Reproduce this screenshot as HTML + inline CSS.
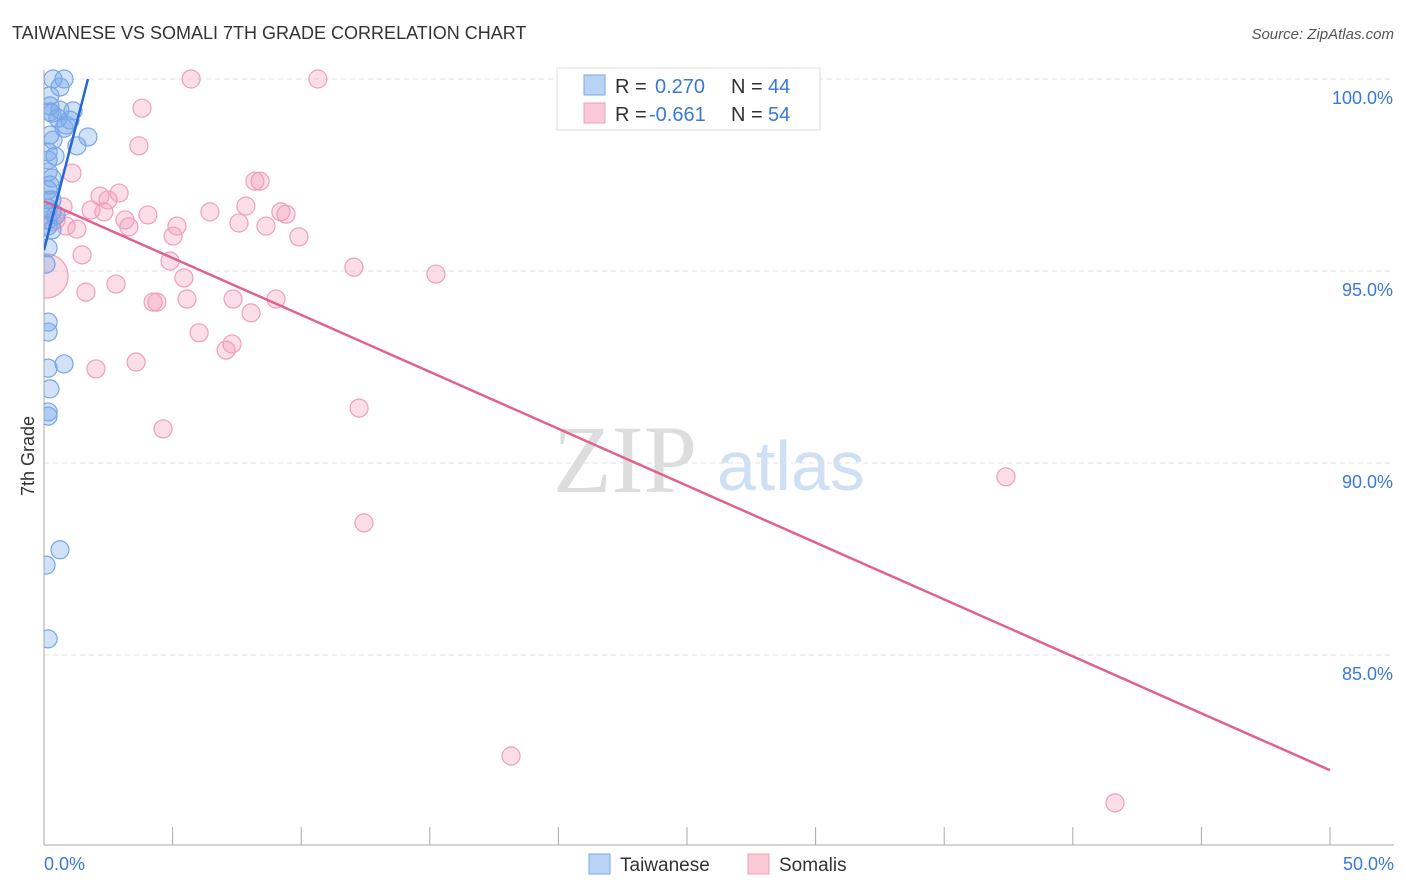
<!DOCTYPE html>
<html><head><meta charset="utf-8"><style>
body{margin:0;background:#fff;font-family:"Liberation Sans",sans-serif}
svg{display:block}
</style></head><body>
<svg id="chart" width="1406" height="892">
<defs><clipPath id="plotclip"><rect x="44" y="50" width="1360" height="800"/></clipPath></defs>
<text x="12" y="39" font-size="18" fill="#333">TAIWANESE VS SOMALI 7TH GRADE CORRELATION CHART</text>
<text x="1394" y="39" font-size="15" fill="#555" font-style="italic" text-anchor="end">Source: ZipAtlas.com</text>
<g>
<text x="553" y="492" font-size="96" fill="#ddd" font-family="Liberation Serif,serif">ZIP</text>
<text x="717" y="490" font-size="70" fill="#cfe0f5">atlas</text>
</g>
<g id="grid"></g>
<g id="axes"></g>
<g id="marks" clip-path="url(#plotclip)"></g>
<text transform="translate(34,456) rotate(-90)" font-size="18" fill="#333" text-anchor="middle">7th Grade</text>
<text x="44" y="870" font-size="18" fill="#3a78d8">0.0%</text>
<text x="1394" y="870" font-size="18" fill="#3a78d8" text-anchor="end">50.0%</text>
<g>
<rect x="557" y="68" width="263" height="62" fill="#fff" stroke="#ddd"/>
<rect x="584" y="75" width="21" height="20" fill="#b9d3f5" stroke="#7aa8e6"/>
<rect x="584" y="103" width="21" height="20" fill="#fbc9d8" stroke="#eea0b8"/>
<text y="93" font-size="20"><tspan x="615" fill="#333">R = </tspan><tspan x="655" fill="#3a78d8">0.270</tspan><tspan x="731" fill="#333">N = </tspan><tspan x="768" fill="#3a78d8">44</tspan></text>
<text y="121" font-size="20"><tspan x="615" fill="#333">R = </tspan><tspan x="649" fill="#3a78d8">-0.661</tspan><tspan x="731" fill="#333">N = </tspan><tspan x="768" fill="#3a78d8">54</tspan></text>
</g>
<g>
<rect x="589" y="854" width="21" height="20" fill="#b9d3f5" stroke="#7aa8e6"/>
<text x="620" y="871" font-size="19" fill="#333">Taiwanese</text>
<rect x="748" y="854" width="21" height="20" fill="#fbc9d8" stroke="#eea0b8"/>
<text x="779" y="871" font-size="19" fill="#333">Somalis</text>
</g>
</svg>
<script>
const yTicks=[100,95,90,85];
const yTickLabels=["100.0%","95.0%","90.0%","85.0%"];
const twX=[0.35,0.78,0.62,0.23,0.23,0.23,0.31,1.13,0.54,0.78,1.71,0.35,1.28,0.16,0.43,0.16,0.31,0.23,0.16,0.31,0.16,0.31,0.16,0.16,0.16,0.08,0.16,0.16,0.16,0.78,0.23,0.16,0.16,0.62,0.08,0.16,1.01,0.86,0.23,0.16,0.31,0.47,0.62,0.16];
const twY=[100.0,100.0,99.79,99.56,99.30,99.14,99.11,99.17,98.98,98.72,98.49,98.41,98.26,98.10,97.99,97.58,97.42,97.24,97.11,96.85,96.64,96.54,96.33,96.17,95.60,95.18,93.67,93.41,92.47,92.58,91.93,91.33,91.22,87.74,87.34,85.42,98.93,98.80,98.54,97.89,96.07,96.46,99.19,96.85];
const soX=[5.72,10.65,3.81,3.69,1.09,2.18,2.92,2.49,1.83,2.33,4.04,3.15,3.30,0.86,1.28,0.47,5.17,5.02,6.45,7.58,7.85,8.20,8.40,9.21,9.41,8.63,9.91,1.48,4.90,5.44,12.05,15.24,1.63,2.80,4.24,4.39,5.56,7.35,9.02,8.05,6.03,7.31,7.08,3.58,2.02,12.25,4.63,12.44,37.40,18.16,41.64,0.08,0.74,0.31];
const soY=[100.0,100.0,99.24,98.26,97.55,96.95,97.03,96.85,96.59,96.54,96.46,96.33,96.15,96.17,96.09,96.33,96.17,95.91,96.54,96.25,96.69,97.34,97.34,96.54,96.48,96.17,95.89,95.42,95.26,94.82,95.10,94.92,94.45,94.66,94.19,94.19,94.27,94.27,94.27,93.91,93.39,93.10,92.94,92.63,92.45,91.43,90.89,88.44,89.64,82.37,81.15,94.87,96.67,96.28];
const soR=[9,9,9,9,9,9,9,9,9,9,9,9,9,9,9,9,9,9,9,9,9,9,9,9,9,9,9,9,9,9,9,9,9,9,9,9,9,9,9,9,9,9,9,9,9,9,9,9,9,9,9,22,9,9];
const twLine=[0,95.55,1.71,100.0];
const soLine=[0,96.82,50,82.0];
const NS="http://www.w3.org/2000/svg";
const xs=v=>44+v/50*1286;
const ys=v=>79+(100-v)/5*192;
function mk(tag,parent,attrs){const e=document.createElementNS(NS,tag);for(const k in attrs)e.setAttribute(k,attrs[k]);parent.appendChild(e);return e;}
const grid=document.getElementById('grid'),axes=document.getElementById('axes'),marks=document.getElementById('marks');
yTicks.forEach((t,i)=>{
 const l=mk('line',grid,{x1:44,x2:1394,y1:ys(t),y2:ys(t),stroke:'#e0e0e0','stroke-dasharray':'5,4'});
 
 
 const tx=mk('text',grid,{x:1393,y:ys(t)+25,'font-size':18,fill:'#3a78d8','text-anchor':'end'});
 tx.textContent=yTickLabels[i];
 
 
});
const ax=mk('line',axes,{x1:44,x2:44,y1:70,y2:845,stroke:'#aaa'});


const bx=mk('line',axes,{x1:44,x2:1394,y1:845,y2:845,stroke:'#aaa'});


for(let i=0;i<=10;i++){
 const t=mk('line',axes,{x1:xs(i*5),x2:xs(i*5),y1:827,y2:845,stroke:'#aaa'});
 
 
}
soX.forEach((x,i)=>{
 const c=mk('circle',marks,{cx:xs(x),cy:ys(soY[i]),r:soR[i],fill:'rgba(244,160,188,0.35)',stroke:'#eda0b8','stroke-width':1.2});
 
 
});
twX.forEach((x,i)=>{
 const c=mk('circle',marks,{cx:xs(x),cy:ys(twY[i]),r:9,fill:'rgba(120,170,235,0.35)',stroke:'#78a6e4','stroke-width':1.2});
 
 
});
const sl=mk('line',marks,{x1:xs(soLine[0]),y1:ys(soLine[1]),x2:xs(soLine[2]),y2:ys(soLine[3]),stroke:'#e0628f','stroke-width':2.5});


const tl=mk('line',marks,{x1:xs(twLine[0]),y1:ys(twLine[1]),x2:xs(twLine[2]),y2:ys(twLine[3]),stroke:'#2468d4','stroke-width':2.5});


</script>
</body></html>
